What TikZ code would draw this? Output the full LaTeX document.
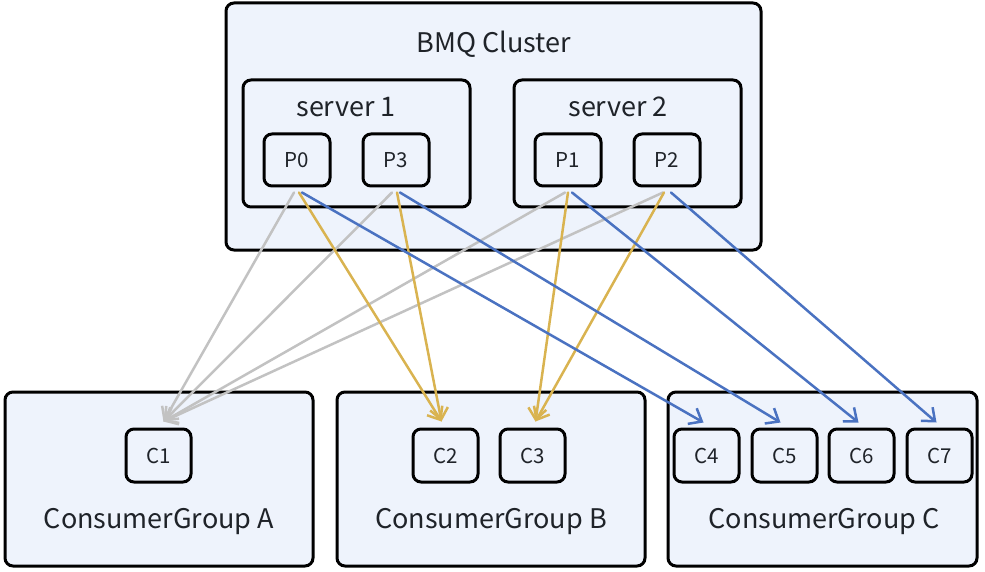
\documentclass[tikz,border=0pt]{standalone}
\usepackage{fontspec}
\setmainfont{Noto Sans CJK SC}
\usetikzlibrary{arrows.meta}
\definecolor{boxfill}{HTML}{EEF3FC}
\definecolor{txt}{HTML}{1F2329}
\definecolor{cgray}{HTML}{C2C2C2}
\definecolor{cgold}{HTML}{D9B350}
\definecolor{cblue}{HTML}{4A72C1}
\tikzset{
  grp/.style={draw=black, fill=boxfill, line width=3pt, rounded corners=8pt, inner sep=0pt},
  part/.style={draw=black, fill=boxfill, line width=3pt, rounded corners=8pt, inner sep=0pt,
    minimum width=66pt, minimum height=52pt, font=\fontsize{20.5}{22}\selectfont, text=txt},
  lbl/.style={font=\fontsize{27}{30}\selectfont, text=txt, inner sep=0pt},
  conn/.style={line width=2.5pt, line cap=round, -{Straight Barb[length=11pt,width=18pt,line width=2.5pt]}},
}
\begin{document}
\begin{tikzpicture}[x=1pt,y=-1pt]
\useasboundingbox (0,0) rectangle (985,572);
% cluster
\node[grp, minimum width=535pt, minimum height=247pt] (cluster) at (493.5,126.5) {};
\node[lbl] (clusterlbl) at (494,44) {BMQ Cluster};
\node[grp, minimum width=227pt, minimum height=127pt] (s1) at (356.5,143.5) {};
\node[grp, minimum width=227pt, minimum height=127pt] (s2) at (627.5,143.5) {};
\node[lbl] (s1lbl) at (346,107) {server 1};
\node[lbl] (s2lbl) at (618,107) {server 2};
\node[part] (P0) at (297,160) {P0};
\node[part] (P3) at (396,160) {P3};
\node[part] (P1) at (568,160) {P1};
\node[part] (P2) at (667,160) {P2};
% groups
\node[grp, minimum width=308pt, minimum height=174pt] (gA) at (159,479) {};
\node[grp, minimum width=308pt, minimum height=174pt] (gB) at (491,479) {};
\node[grp, minimum width=309pt, minimum height=174pt] (gC) at (822.5,479) {};
\node[lbl] (gAlbl) at (159,522) {ConsumerGroup A};
\node[lbl] (gBlbl) at (491,522) {ConsumerGroup B};
\node[lbl] (gClbl) at (824,522) {ConsumerGroup C};
\node[part, minimum width=65pt, minimum height=53pt] (C1) at (158.5,455.5) {C1};
\node[part, minimum width=65pt, minimum height=53pt] (C2) at (445.5,455.5) {C2};
\node[part, minimum width=65pt, minimum height=53pt] (C3) at (532.5,455.5) {C3};
\node[part, minimum width=65pt, minimum height=53pt] (C4) at (706.5,455.5) {C4};
\node[part, minimum width=65pt, minimum height=53pt] (C5) at (784.5,455.5) {C5};
\node[part, minimum width=65pt, minimum height=53pt] (C6) at (861.5,455.5) {C6};
\node[part, minimum width=65pt, minimum height=53pt] (C7) at (939.5,455.5) {C7};
% gray arrows
\draw[conn, cgray] ([xshift=-3pt,yshift=-5pt]P0.south) -- ([xshift=5pt,yshift=6pt]C1.north);
\draw[conn, cgray] ([xshift=-4pt,yshift=-5pt]P3.south) -- ([xshift=5pt,yshift=6pt]C1.north);
\draw[conn, cgray] ([xshift=-3pt,yshift=-5pt]P1.south) -- ([xshift=5pt,yshift=6pt]C1.north);
\draw[conn, cgray] ([xshift=-4pt,yshift=-5pt]P2.south) -- ([xshift=5pt,yshift=6pt]C1.north);
% gold arrows
\draw[conn, cgold] ([xshift=2pt,yshift=-5pt]P0.south) -- ([xshift=-4pt,yshift=6pt]C2.north);
\draw[conn, cgold] ([xshift=1pt,yshift=-5pt]P3.south) -- ([xshift=-4pt,yshift=6pt]C2.north);
\draw[conn, cgold] ([xshift=0pt,yshift=-5pt]P1.south) -- ([xshift=3pt,yshift=6pt]C3.north);
\draw[conn, cgold] ([xshift=-3pt,yshift=-5pt]P2.south) -- ([xshift=3pt,yshift=6pt]C3.north);
% blue arrows
\draw[conn, cblue] ([xshift=5pt,yshift=-5pt]P0.south) -- ([xshift=-3pt,yshift=5pt]C4.north);
\draw[conn, cblue] ([xshift=4pt,yshift=-5pt]P3.south) -- ([xshift=-4pt,yshift=5pt]C5.north);
\draw[conn, cblue] ([xshift=4pt,yshift=-5pt]P1.south) -- ([xshift=-3pt,yshift=5pt]C6.north);
\draw[conn, cblue] ([xshift=4pt,yshift=-5pt]P2.south) -- ([xshift=-3pt,yshift=5pt]C7.north);
\end{tikzpicture}
\end{document}
